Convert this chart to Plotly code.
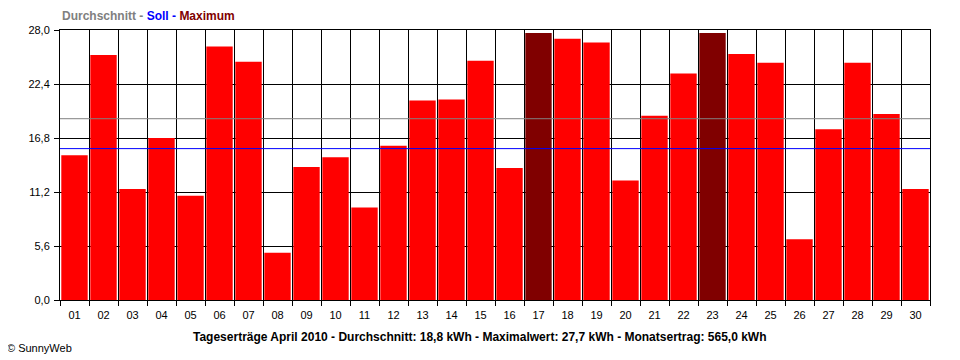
import plotly.graph_objects as go

days = [f"{d:02d}" for d in range(1, 31)]
values = [15.0, 25.4, 11.5, 16.8, 10.8, 26.3, 24.7, 4.9, 13.8, 14.8,
          9.6, 16.0, 20.7, 20.8, 24.8, 13.7, 27.7, 27.1, 26.7, 12.4,
          19.1, 23.5, 27.7, 25.5, 24.6, 6.3, 17.7, 24.6, 19.3, 11.5]
average = 18.8
soll = 15.7
maximum = 27.7
total = 565.0
y_ticks = [0, 5.6, 11.2, 16.8, 22.4, 28.0]

colors = ["#800000" if v >= maximum else "#FF0000" for v in values]

FONT = "Liberation Sans, Arial, sans-serif"

fig = go.Figure()
fig.add_trace(go.Bar(x=days, y=values, marker=dict(color=colors, line=dict(width=0)),
                     hoverinfo="x+y"))

fig.add_shape(type="line", xref="x domain", yref="y", x0=0, x1=1, y0=average, y1=average,
              line=dict(color="#808080", width=1), layer="above")
fig.add_shape(type="line", xref="x domain", yref="y", x0=0, x1=1, y0=soll, y1=soll,
              line=dict(color="#0000FF", width=1), layer="above")

# page body has an 8px margin, so the figure is drawn slightly smaller
fig.update_layout(
    width=952, height=352,
    margin=dict(l=52, r=30, t=22, b=60),
    paper_bgcolor="white", plot_bgcolor="white",
    separators=",.",
    bargap=0.09,
    showlegend=False,
    font=dict(family=FONT, size=11, color="black"),
)
fig.update_xaxes(type="category", tickson="boundaries", showgrid=True, gridcolor="black",
                 gridwidth=1, ticks="outside", ticklen=5, tickcolor="black",
                 showline=True, linecolor="black", linewidth=1, mirror=True,
                 ticklabelstandoff=5,
                 tickfont=dict(family=FONT, size=11, color="black"))
fig.update_yaxes(range=[0, 28], tickvals=y_ticks, tickformat=".1f", showgrid=True,
                 gridcolor="black", gridwidth=1, ticks="outside", ticklen=5,
                 tickcolor="black", showline=True, linecolor="black", linewidth=1,
                 mirror=True, zeroline=False, ticklabelstandoff=2,
                 tickfont=dict(family=FONT, size=11, color="black"))

fig.add_annotation(xref="paper", yref="paper", x=0, y=1.053, xanchor="left", yanchor="middle",
                   showarrow=False,
                   text=("<b><span style='color:#808080'>Durchschnitt -</span> "
                         "<span style='color:#0000FF'>Soll -</span> "
                         "<span style='color:#800000'>Maximum</span></b>"),
                   font=dict(family=FONT, size=12))
fig.add_annotation(xref="paper", yref="paper", x=0.4824, y=-0.136, xanchor="center",
                   yanchor="middle", showarrow=False,
                   text=(f"<b>Tageserträge April 2010 - Durchschnitt: {average:.1f} kWh - "
                         f"Maximalwert: {maximum:.1f} kWh - Monatsertrag: {total:.1f} kWh</b>"
                         ).replace(".", ","),
                   font=dict(family=FONT, size=12, color="black"))
fig.add_annotation(xref="paper", yref="paper", x=-0.0636, y=-0.177, xanchor="left",
                   yanchor="middle", showarrow=False, text="© SunnyWeb",
                   font=dict(family=FONT, size=11, color="black"))

fig.write_html("out.html")
